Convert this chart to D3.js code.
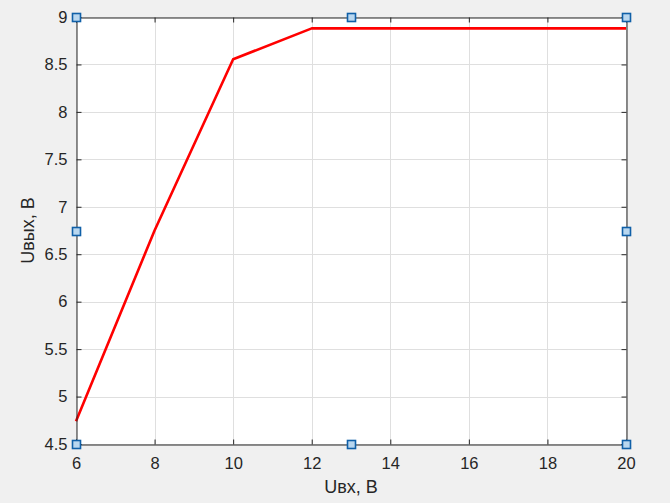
<!DOCTYPE html>
<html><head><meta charset="utf-8">
<script src="https://cdn.jsdelivr.net/npm/d3@7"></script>
<style>body{margin:0;background:#f0f0f0;}svg{display:block;font-family:"Liberation Sans",Arial,sans-serif;}</style>
</head><body><svg id="c" width="670" height="503"></svg>
<script>
const xValues = [6, 8, 10, 12, 14, 16, 18, 20];
const yValues = [4.74, 6.75, 8.555, 8.88, 8.88, 8.88, 8.88, 8.88];
const xTicks = [6, 8, 10, 12, 14, 16, 18, 20];
const yTicks = [4.5, 5, 5.5, 6, 6.5, 7, 7.5, 8, 8.5, 9];
const xLabel = "Uвх, В";
const yLabel = "Uвых, В";

const svg = d3.select("#c");
const L = 76, R = 626, T = 17, B = 444;
const x = d3.scaleLinear().domain([6, 20]).range([L, R]);
const y = d3.scaleLinear().domain([4.5, 9]).range([B, T]);

svg.append("rect").attr("width", 670).attr("height", 503).attr("fill", "#f0f0f0");
svg.append("rect").attr("x", L).attr("y", T).attr("width", R - L).attr("height", B - T).attr("fill", "#fff");

// grid
const g = svg.append("g");
g.selectAll(".gx").data(xTicks).join("line")
  .attr("x1", d => Math.round(x(d)) + 0.5).attr("x2", d => Math.round(x(d)) + 0.5)
  .attr("y1", T).attr("y2", B).attr("stroke", "#dfdfdf").attr("stroke-width", 1);
g.selectAll(".gy").data(yTicks).join("line")
  .attr("y1", d => Math.round(y(d)) + 0.5).attr("y2", d => Math.round(y(d)) + 0.5)
  .attr("x1", L).attr("x2", R).attr("stroke", "#dfdfdf").attr("stroke-width", 1);

// line
svg.append("path").datum(xValues.map((v, i) => [v, yValues[i]]))
  .attr("fill", "none").attr("stroke", "#ff0000").attr("stroke-width", 2.6)
  .attr("stroke-linejoin", "round")
  .attr("d", d3.line().x(d => x(d[0])).y(d => y(d[1])));

// axes
const ax = d3.axisBottom(x).tickValues(xTicks).tickSize(-5).tickPadding(13).tickFormat(d3.format("d"));
const axT = d3.axisTop(x).tickValues(xTicks).tickSize(-5).tickFormat("");
const ay = d3.axisLeft(y).tickValues(yTicks).tickSize(-5).tickPadding(9).tickFormat(d => String(d));
const ayR = d3.axisRight(y).tickValues(yTicks).tickSize(-5).tickFormat("");
function style(sel) {
  sel.select(".domain").attr("stroke", "#262626");
  sel.selectAll(".tick line").attr("stroke", "#262626");
  sel.selectAll(".tick text").attr("fill", "#262626").attr("font-size", 16.5).attr("font-family", '"Liberation Sans",Arial,sans-serif');
}
svg.append("g").attr("transform", `translate(0,${B + 0.5})`).call(ax).call(style);
svg.append("g").attr("transform", `translate(0,${T + 0.5})`).call(axT).call(style);
svg.append("g").attr("transform", `translate(${L + 0.5},0)`).call(ay).call(style);
svg.append("g").attr("transform", `translate(${R + 0.5},0)`).call(ayR).call(style);
svg.selectAll(".domain").attr("d", function () { return d3.select(this).attr("d").replace(/[VH]-?5/g, m => m[0] + "0"); });

// labels
svg.append("text").attr("x", (L + R) / 2).attr("y", 493).attr("text-anchor", "middle")
  .attr("font-size", 18).attr("fill", "#262626").text(xLabel);
svg.append("text").attr("transform", `translate(34,${(T + B) / 2}) rotate(-90)`).attr("text-anchor", "middle")
  .attr("font-size", 18).attr("fill", "#262626").text(yLabel);

// selection handles
const hx = [L, (L + R) / 2, R];
const hy = [T, (T + B) / 2, B];
const handles = [];
hx.forEach((a, i) => hy.forEach((b, j) => { if (!(i === 1 && j === 1)) handles.push([a, b]); }));
svg.selectAll(".h").data(handles).join("rect")
  .attr("x", d => Math.round(d[0]) - 3.5).attr("y", d => Math.round(d[1]) - 3.5)
  .attr("width", 8).attr("height", 8)
  .attr("fill", "#b9d7ef").attr("stroke", "#1060a8").attr("stroke-width", 1.6);
</script></body></html>
